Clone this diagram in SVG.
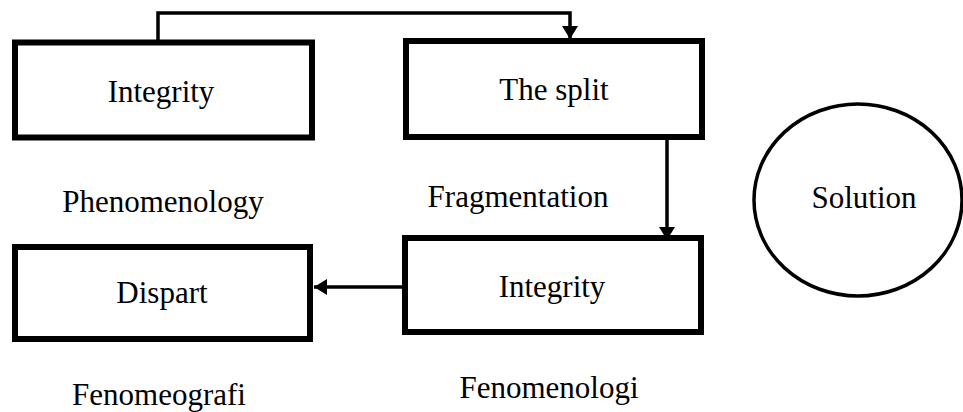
<svg xmlns="http://www.w3.org/2000/svg" width="963" height="412" viewBox="0 0 963 412">
<style>
.box{fill:#fff;stroke:#000;stroke-width:6}
.conn{fill:none;stroke:#000;stroke-width:3.5}
.t{font-family:"Liberation Serif","Times New Roman",serif;font-size:31px;fill:#000;text-anchor:middle}
</style>
<defs>
<marker id="arr" markerUnits="userSpaceOnUse" markerWidth="14" markerHeight="18" viewBox="0 0 14 18" refX="13" refY="9" orient="auto">
<path d="M0,1 L13,9 L0,17 Z" fill="#000"/>
</marker>
</defs>
<rect width="963" height="412" fill="#fff"/>
<g id="connectors">
<path class="conn" d="M158,40 V13 H570 V39" marker-end="url(#arr)"/>
<path class="conn" d="M667,140 V240" marker-end="url(#arr)"/>
<path class="conn" d="M402,287 H314" marker-end="url(#arr)"/>
</g>
<g id="integrity1">
<rect class="box" x="15" y="42.5" width="297" height="95"/>
<text class="t" x="161" y="102">Integrity</text>
</g>
<g id="split">
<rect class="box" x="406" y="41" width="296" height="96"/>
<text class="t" x="554" y="100">The split</text>
</g>
<g id="integrity2">
<rect class="box" x="405" y="238" width="296" height="94"/>
<text class="t" x="552" y="297">Integrity</text>
</g>
<g id="dispart">
<rect class="box" x="15" y="247" width="295" height="92"/>
<text class="t" x="162" y="303">Dispart</text>
</g>
<g id="solution">
<ellipse cx="858" cy="200" rx="104" ry="96" fill="#fff" stroke="#000" stroke-width="3.5"/>
<text class="t" x="864" y="208">Solution</text>
</g>
<g id="labels">
<text class="t" x="163" y="212">Phenomenology</text>
<text class="t" x="518" y="207">Fragmentation</text>
<text class="t" x="159" y="405">Fenomeografi</text>
<text class="t" x="549" y="398">Fenomenologi</text>
</g>
</svg>
